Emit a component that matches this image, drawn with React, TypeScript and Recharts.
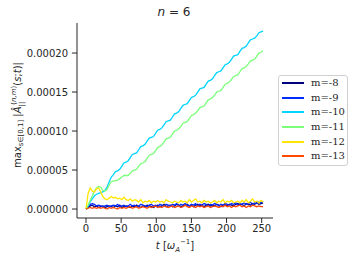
import React from 'react';
import { LineChart, Line, XAxis, YAxis } from 'recharts';

// time samples (t in 1/omega_A)
const tValues = [
  0, 3, 6, 9, 12, 15, 18, 21, 24, 27, 30, 33, 36, 39, 42, 45, 48, 51, 54, 57, 60,
  63, 66, 69, 72, 75, 78, 81, 84, 87, 90, 93, 96, 99, 102, 105, 108, 111, 114, 117, 120,
  123, 126, 129, 132, 135, 138, 141, 144, 147, 150, 153, 156, 159, 162, 165, 168, 171, 174, 177, 180,
  183, 186, 189, 192, 195, 198, 201, 204, 207, 210, 213, 216, 219, 222, 225, 228, 231, 234, 237, 240,
  243, 246, 249, 252,
];

// max |A_par| per mode, in units of 1e-6
const m8 = [
  0, 2, 4, 5, 3, 4, 2, 3, 4, 2, 3, 4, 3, 2, 4, 3, 5, 2, 3, 4, 3,
  2, 4, 3, 5, 3, 2, 4, 3, 5, 4, 3, 2, 4, 5, 3, 4, 6, 3, 4, 5,
  3, 4, 6, 5, 3, 4, 5, 6, 4, 5, 3, 5, 6, 4, 5, 3, 5, 6, 4, 5,
  4, 6, 5, 3, 5, 6, 4, 6, 5, 4, 6, 7, 5, 6, 4, 7, 6, 5, 7, 6,
  8, 6, 7, 8,
];
const m9 = [
  0, 3, 6, 7, 6, 4, 5, 4, 3, 4, 5, 3, 4, 5, 4, 6, 3, 4, 5, 3, 4,
  6, 4, 5, 3, 4, 6, 5, 4, 3, 5, 6, 4, 5, 3, 6, 5, 4, 6, 5, 4,
  6, 5, 7, 4, 6, 5, 7, 5, 4, 6, 5, 7, 4, 6, 5, 7, 6, 4, 6, 5,
  7, 6, 4, 6, 5, 7, 6, 5, 7, 6, 8, 5, 7, 6, 8, 6, 7, 9, 6, 8,
  7, 9, 8, 10,
];
const m10 = [
  0, 4, 9, 13, 17, 19, 20, 21, 22, 24, 28, 35, 41, 44, 48, 49, 51, 55, 59, 60, 62,
  66, 70, 71, 72, 76, 80, 81, 83, 87, 91, 92, 93, 97, 101, 102, 104, 108, 112, 113, 114,
  118, 122, 123, 125, 129, 133, 134, 135, 139, 143, 144, 146, 150, 154, 155, 156, 160, 164, 165, 167,
  171, 175, 176, 177, 181, 185, 186, 188, 192, 196, 197, 198, 202, 206, 207, 209, 213, 217, 218, 219,
  222, 226, 227, 228,
];
const m11 = [
  0, 5, 11, 17, 23, 27, 29, 28, 24, 23, 25, 31, 35, 36, 36, 37, 39, 41, 43, 43, 43,
  46, 49, 50, 51, 55, 58, 59, 61, 65, 69, 70, 71, 75, 79, 80, 82, 86, 90, 91, 92,
  96, 100, 101, 103, 106, 110, 111, 112, 116, 120, 121, 123, 126, 130, 131, 132, 136, 140, 141, 143,
  146, 150, 151, 152, 156, 160, 161, 163, 166, 170, 171, 172, 176, 180, 181, 183, 186, 190, 191, 192,
  196, 200, 201, 203,
];
const m12 = [
  0, 20, 27, 23, 22, 26, 27, 22, 16, 13, 12, 14, 16, 14, 15, 13, 14, 12, 15, 12, 11,
  13, 10, 12, 11, 9, 12, 8, 10, 9, 11, 8, 10, 9, 11, 9, 10, 8, 12, 10, 9,
  8, 10, 9, 8, 11, 9, 10, 8, 12, 9, 11, 13, 9, 10, 8, 11, 9, 10, 8, 9,
  11, 8, 10, 9, 12, 8, 10, 9, 11, 8, 9, 10, 8, 11, 9, 12, 8, 10, 13, 9,
  10, 8, 11, 9,
];
const m13 = [
  0, 1, 2, 1, 2, 1, 2, 1, 2, 1, 0, 2, 1, 2, 1, 0, 2, 1, 2, 1, 2,
  3, 1, 2, 3, 1, 2, 3, 2, 1, 3, 2, 3, 4, 2, 3, 2, 4, 3, 2, 3,
  4, 2, 3, 4, 2, 3, 5, 3, 2, 4, 3, 2, 4, 3, 4, 2, 3, 4, 2, 3,
  4, 3, 2, 4, 3, 5, 3, 4, 2, 4, 3, 4, 5, 3, 4, 2, 4, 3, 5, 4,
  3, 4, 3, 3,
];

const modeLabels = ['m=-8', 'm=-9', 'm=-10', 'm=-11', 'm=-12', 'm=-13'];
const modeKeys = ['m8', 'm9', 'm10', 'm11', 'm12', 'm13'];
const modeColors = ['#000080', '#002bff', '#00d4ff', '#7bff7b', '#ffe600', '#ff4800'];

const xTicks = [0, 50, 100, 150, 200, 250];
const yTicks = [0, 0.00005, 0.0001, 0.00015, 0.0002];

const data = tValues.map((t, i) => ({
  t,
  m8: m8[i] * 1e-6,
  m9: m9[i] * 1e-6,
  m10: m10[i] * 1e-6,
  m11: m11[i] * 1e-6,
  m12: m12[i] * 1e-6,
  m13: m13[i] * 1e-6,
}));

const axisColor = '#262626';
const tickFont = { fontFamily: 'DejaVu Sans', fontSize: 10, fill: '#262626' };

export default function App() {
  return (
    <div style={{ position: 'absolute', left: 0, top: 0, width: 356, height: 261, background: '#fff' }}>
      <LineChart width={356} height={261} data={data} margin={{ top: 23, right: 83, bottom: 0, left: 0 }}>
        <XAxis
          xAxisId="b"
          dataKey="t"
          type="number"
          domain={[-12.8, 266.1]}
          ticks={xTicks}
          allowDataOverflow
          height={43}
          stroke={axisColor}
          tickSize={5}
          tickMargin={2}
          tick={tickFont}
        />
        <XAxis xAxisId="top" dataKey="t" type="number" orientation="top" domain={[-12.8, 266.1]} height={0} tick={false} tickLine={false} stroke={axisColor} />
        <YAxis
          yAxisId="l"
          type="number"
          domain={[-0.0000115, 0.0002385]}
          ticks={yTicks}
          allowDataOverflow
          width={77}
          stroke={axisColor}
          tickSize={5}
          tickMargin={4}
          tick={tickFont}
          tickFormatter={(v: number) => v.toFixed(5)}
        />
        <YAxis yAxisId="r" orientation="right" domain={[0, 1]} width={0} tick={false} tickLine={false} stroke={axisColor} />
        {modeKeys.map((k, i) => (
          <Line
            key={k}
            xAxisId="b"
            yAxisId="l"
            type="linear"
            dataKey={k}
            stroke={modeColors[i]}
            strokeWidth={1.3}
            dot={false}
            isAnimationActive={false}
          />
        ))}
      </LineChart>

      {/* title and axis labels */}
      <svg width={356} height={261} style={{ position: 'absolute', left: 0, top: 0, pointerEvents: 'none' }}>
        <text x={174} y={16} textAnchor="middle" fontFamily="DejaVu Sans" fontSize={12} fill="#262626">
          <tspan fontStyle="italic">n</tspan> = 6
        </text>
        <text x={175} y={249} textAnchor="middle" fontFamily="DejaVu Sans" fontSize={10} fill="#262626">
          <tspan fontStyle="italic">t</tspan> [<tspan fontStyle="italic">ω</tspan>
          <tspan fontSize={7} fontStyle="italic" dy={3}>A</tspan>
          <tspan fontSize={7} dy={-8}>−1</tspan>
          <tspan dy={5}>]</tspan>
        </text>
        <text
          transform="translate(21,115) rotate(-90)"
          textAnchor="middle"
          fontFamily="DejaVu Sans"
          fontSize={10}
          fill="#262626"
        >
          max<tspan fontSize={7} dy={2}>s∈[0,1]</tspan>
          <tspan dy={-2}> |</tspan>
          <tspan fontStyle="italic">Â</tspan>
          <tspan fontSize={7} dy={3}>||</tspan>
          <tspan fontSize={7} dx={-3} dy={-8}>(</tspan>
          <tspan fontSize={7} fontStyle="italic">n,m</tspan>
          <tspan fontSize={7}>)</tspan>
          <tspan dy={5}>(</tspan>
          <tspan fontStyle="italic">s</tspan>;<tspan fontStyle="italic">t</tspan>)|
        </text>
      </svg>

      {/* legend */}
      <div
        style={{
          position: 'absolute',
          left: 278,
          top: 75,
          width: 70,
          height: 91,
          boxSizing: 'border-box',
          border: '1px solid #d0d0d0',
          borderRadius: 3,
          background: '#fff',
          padding: '0 0 0 3px',
        }}
      >
        {modeLabels.map((lbl, i) => (
          <div key={lbl} style={{ display: 'flex', alignItems: 'center', height: 14.6 }}>
            <div style={{ width: 22, height: 2, background: modeColors[i] }} />
            <span style={{ marginLeft: 7, fontFamily: 'DejaVu Serif', fontSize: 10, color: '#262626', lineHeight: '12px' }}>
              {lbl}
            </span>
          </div>
        ))}
      </div>
    </div>
  );
}
